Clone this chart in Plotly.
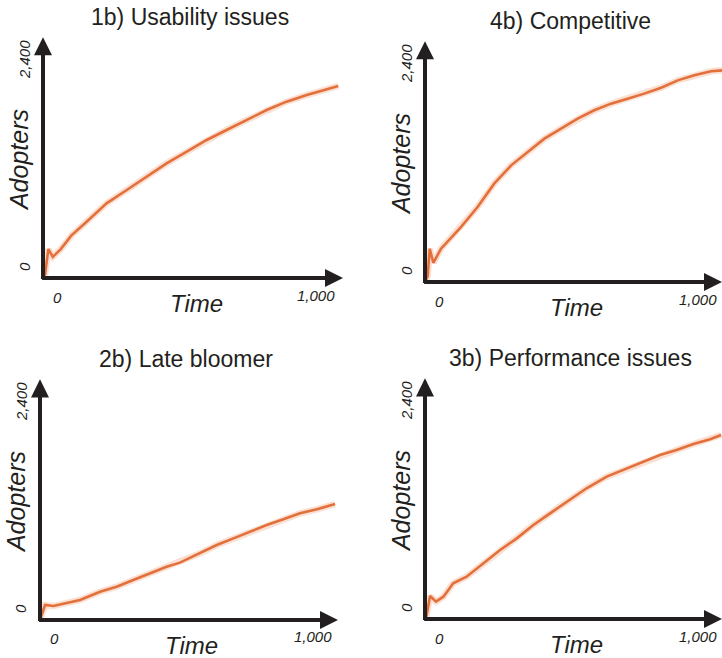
import plotly.graph_objects as go

# ---- data: adopters over time for each scenario ----
time_usability = [0, 7, 18, 33, 60, 95, 147, 214, 282, 349, 416, 484, 551, 618, 686, 753, 820, 888, 950, 994]
adopters_usability = [0, 40, 300, 220, 300, 440, 585, 776, 914, 1053, 1191, 1312, 1434, 1538, 1642, 1745, 1832, 1901, 1955, 1995]

time_competitive = [0, 9, 16, 28, 54, 121, 177, 233, 290, 346, 402, 458, 514, 570, 626, 682, 738, 795, 851, 907, 963, 1000]
adopters_competitive = [0, 60, 346, 200, 346, 571, 779, 1022, 1212, 1351, 1489, 1593, 1697, 1784, 1853, 1905, 1957, 2019, 2095, 2147, 2189, 2199]

time_late = [0, 17, 45, 90, 135, 202, 258, 314, 370, 426, 471, 539, 595, 651, 707, 763, 819, 875, 932, 993]
adopters_late = [0, 156, 145, 173, 208, 294, 346, 416, 485, 554, 596, 693, 779, 848, 918, 987, 1046, 1108, 1150, 1205]

time_performance = [0, 5, 17, 37, 62, 95, 140, 196, 253, 309, 365, 421, 477, 544, 612, 668, 735, 791, 847, 904, 960, 997]
adopters_performance = [0, 30, 239, 180, 232, 371, 440, 578, 717, 838, 977, 1098, 1219, 1358, 1479, 1548, 1635, 1704, 1756, 1818, 1867, 1912]

titles = ["1b) Usability issues", "4b) Competitive", "2b) Late bloomer", "3b) Performance issues"]
x_tick_labels = ["0", "1,000"]
y_tick_labels = ["0", "2,400"]
x_tick_values = [0, 1000]
y_tick_values = [0, 2400]

W, H = 722, 658
INK = "#231f20"
ORANGE = "#e3703a"
FONT = "Liberation Sans"

# panel frames in pixels: origin (x, y) and right end of the x arrow
panels = [
    dict(ox=43, oy=278, right=343, xmax=1010, t=time_usability, v=adopters_usability, title=titles[0]),
    dict(ox=425, oy=282, right=722, xmax=1000, t=time_competitive, v=adopters_competitive, title=titles[1]),
    dict(ox=40, oy=620, right=338, xmax=1003, t=time_late, v=adopters_late, title=titles[2]),
    dict(ox=425, oy=619, right=722, xmax=1000, t=time_performance, v=adopters_performance, title=titles[3]),
]
YMAX = 2500
PX_PER_ADOPTER = 0.09625

fig = go.Figure()
annotations = []
layout_axes = {}


def label(**kw):
    base = dict(showarrow=False, xanchor="center", yanchor="middle")
    base.update(kw)
    return base


for i, p in enumerate(panels, start=1):
    xa = "x" if i == 1 else f"x{i}"
    ya = "y" if i == 1 else f"y{i}"
    top_px = p["oy"] - YMAX * PX_PER_ADOPTER
    xdom = [p["ox"] / W, min(1.0, p["right"] / W)]
    ydom = [1 - p["oy"] / H, 1 - top_px / H]
    axis_style = dict(showgrid=False, zeroline=False, showline=False,
                      showticklabels=False, ticks="", fixedrange=True)
    layout_axes["xaxis" if i == 1 else f"xaxis{i}"] = dict(
        domain=xdom, range=[0, p["xmax"]], anchor=ya, **axis_style)
    layout_axes["yaxis" if i == 1 else f"yaxis{i}"] = dict(
        domain=ydom, range=[0, YMAX], anchor=xa, **axis_style)

    # soft halo under the curve, then the curve itself
    fig.add_trace(go.Scatter(x=p["t"], y=p["v"], mode="lines", xaxis=xa, yaxis=ya,
                             line=dict(color="rgba(238,150,105,0.30)", width=6.5),
                             hoverinfo="skip", showlegend=False))
    fig.add_trace(go.Scatter(x=p["t"], y=p["v"], mode="lines", xaxis=xa, yaxis=ya,
                             line=dict(color=ORANGE, width=2.6),
                             showlegend=False))

    # axis arrows
    annotations.append(dict(x=0, y=YMAX, ax=0, ay=-25, xref=xa, yref=ya, axref=xa, ayref=ya,
                            text="", showarrow=True, arrowhead=2, arrowsize=0.9,
                            arrowwidth=4, arrowcolor=INK))
    annotations.append(dict(x=p["xmax"], y=0, ax=-8, ay=0, xref=xa, yref=ya, axref=xa, ayref=ya,
                            text="", showarrow=True, arrowhead=2, arrowsize=0.9,
                            arrowwidth=4, arrowcolor=INK))

    dom = f"{xa} domain"
    ydomref = f"{ya} domain"
    # panel title
    annotations.append(label(x=0.49, y=1, xref=dom, yref=ydomref, yshift=20,
                             text=p["title"], font=dict(family=FONT, size=23, color=INK)))
    # axis titles
    annotations.append(label(x=0, y=0.49, xref=dom, yref=ydomref, xshift=-24,
                             text="Adopters", textangle=-90,
                             font=dict(family=FONT, size=25, color=INK, style="italic")))
    annotations.append(label(x=0.51, y=0, xref=dom, yref=ydomref, yshift=-25,
                             text="Time",
                             font=dict(family=FONT, size=24, color=INK, style="italic")))
    # tick labels
    annotations.append(label(x=x_tick_values[0], y=0, xref=xa, yref=ya, xshift=14, yshift=-19,
                             text=x_tick_labels[0],
                             font=dict(family=FONT, size=15, color=INK, style="italic")))
    annotations.append(label(x=x_tick_values[1], y=0, xref=xa, yref=ya, xshift=-24, yshift=-17,
                             text=x_tick_labels[1],
                             font=dict(family=FONT, size=15, color=INK, style="italic")))
    annotations.append(label(x=0, y=y_tick_values[0], xref=xa, yref=ya, xshift=-19, yshift=11,
                             text=y_tick_labels[0], textangle=-90,
                             font=dict(family=FONT, size=15, color=INK, style="italic")))
    annotations.append(label(x=0, y=y_tick_values[1], xref=xa, yref=ya, xshift=-19, yshift=-13,
                             text=y_tick_labels[1], textangle=-90,
                             font=dict(family=FONT, size=15, color=INK, style="italic")))

fig.update_layout(width=W, height=H, margin=dict(l=0, r=0, t=0, b=0),
                  paper_bgcolor="white", plot_bgcolor="white",
                  annotations=annotations, showlegend=False, **layout_axes)

fig.write_html("out.html")
